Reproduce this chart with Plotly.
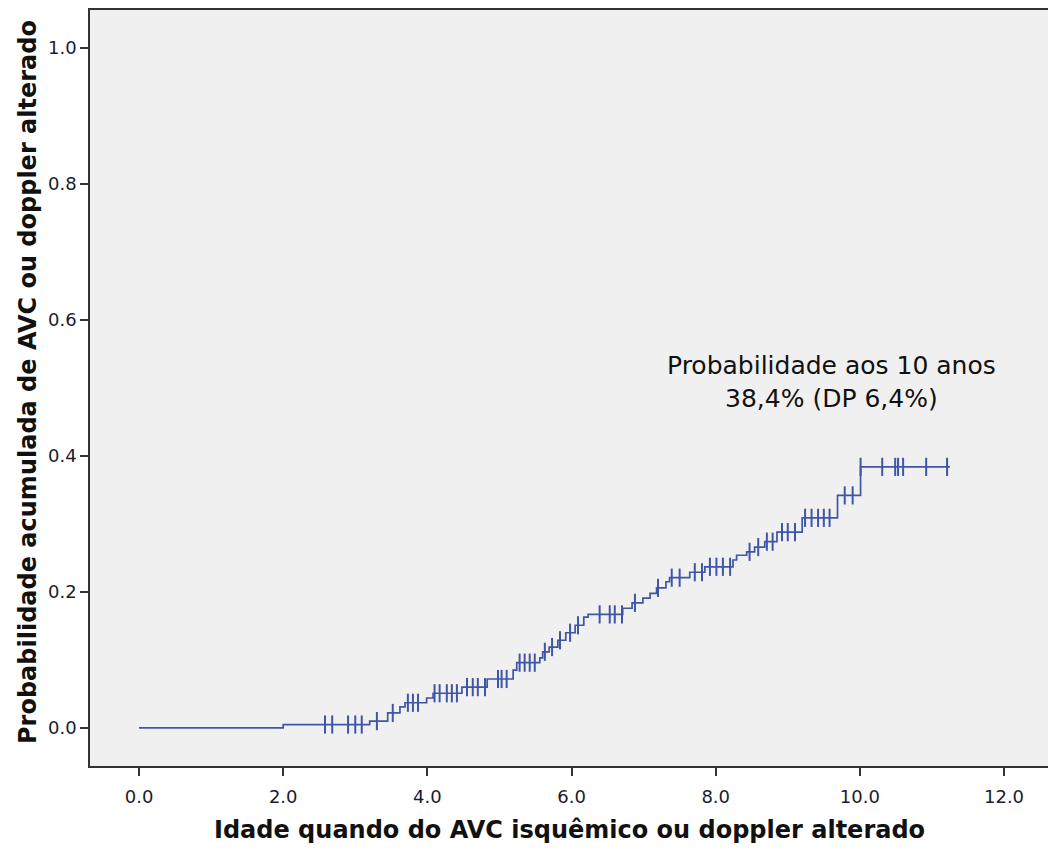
import plotly.graph_objects as go
import numpy as np

# Kaplan-Meier cumulative incidence: event times and cumulative probability after each step
event_times = [0.0, 2.00, 3.20, 3.45, 3.62, 3.69, 3.99, 4.08, 4.48, 4.83, 5.19, 5.24, 5.56, 5.60,
               5.69, 5.81, 5.92, 6.05, 6.17, 6.23, 6.71, 6.84, 6.99, 7.09, 7.18, 7.31, 7.36,
               7.64, 7.85, 8.24, 8.29, 8.43, 8.54, 8.68, 8.85, 9.20, 9.69, 10.01]
cum_prob = [0.0, 0.005, 0.010, 0.022, 0.031, 0.037, 0.044, 0.051, 0.060, 0.072, 0.085, 0.096, 0.103,
            0.112, 0.119, 0.129, 0.140, 0.151, 0.163, 0.167, 0.176, 0.184, 0.191, 0.198, 0.206,
            0.215, 0.221, 0.229, 0.237, 0.247, 0.254, 0.259, 0.266, 0.274, 0.288, 0.309, 0.342, 0.384]
end_time = 11.25

# Censored observations (ages)
censored_times = [2.58, 2.68, 2.90, 3.00, 3.09, 3.30, 3.52, 3.73, 3.80, 3.87, 4.10, 4.17, 4.27,
                  4.34, 4.41, 4.55, 4.63, 4.70, 4.80, 4.98, 5.03, 5.10, 5.28, 5.35, 5.42, 5.49,
                  5.63, 5.73, 5.84, 5.98, 6.09, 6.39, 6.53, 6.60, 6.70, 6.88, 7.20, 7.39, 7.50,
                  7.71, 7.81, 7.92, 8.01, 8.10, 8.20, 8.47, 8.59, 8.71, 8.79, 8.92, 9.00, 9.10,
                  9.24, 9.33, 9.42, 9.50, 9.58, 9.79, 9.90, 10.01, 10.31, 10.49, 10.53, 10.60,
                  10.92, 11.21]

x_ticks = [0.0, 2.0, 4.0, 6.0, 8.0, 10.0, 12.0]
y_ticks = [0.0, 0.2, 0.4, 0.6, 0.8, 1.0]

annotation_text = "Probabilidade aos 10 anos<br>38,4% (DP 6,4%)"
x_title = "Idade quando do AVC isquêmico ou doppler alterado"
y_title = "Probabilidade acumulada de AVC ou doppler alterado"

line_color = "#3F56A8"

step_x = event_times + [end_time]
step_y = cum_prob + [cum_prob[-1]]

et = np.array(event_times)
cp = np.array(cum_prob)
cens_y = [float(cp[np.searchsorted(et, t, side="right") - 1]) for t in censored_times]

fig = go.Figure()
fig.add_trace(go.Scatter(x=step_x, y=step_y, mode="lines", line_shape="hv",
                         line=dict(color=line_color, width=1.7), hoverinfo="skip"))
fig.add_trace(go.Scatter(x=censored_times, y=cens_y, mode="markers",
                         marker=dict(symbol="line-ns-open", size=13, color=line_color,
                                     line=dict(color=line_color, width=2)),
                         hoverinfo="skip"))

fig.add_annotation(x=9.61, y=0.509, xref="x", yref="y", text=annotation_text,
                   showarrow=False, font=dict(family="DejaVu Sans", size=25, color="#111"),
                   align="center")

title_font = dict(family="DejaVu Sans", size=24, color="#111")
fig.add_annotation(x=-0.0647, y=0.508, xref="paper", yref="paper", textangle=-90,
                   text="<b>" + y_title + "</b>", showarrow=False, font=title_font,
                   xanchor="center", yanchor="middle")
fig.add_annotation(x=0.501, y=-0.0847, xref="paper", yref="paper",
                   text="<b>" + x_title + "</b>", showarrow=False, font=title_font,
                   xanchor="center", yanchor="middle")

axis_font = dict(family="DejaVu Sans", size=18, color="#1c1c2c")

fig.update_layout(
    width=1048, height=850,
    margin=dict(l=90, r=0, t=10, b=84),
    paper_bgcolor="white", plot_bgcolor="#F0F0F0",
    showlegend=False,
    xaxis=dict(range=[-0.68, 12.61], tickvals=x_ticks, ticktext=[f"{v:.1f}" for v in x_ticks],
               showgrid=False, zeroline=False, showline=True, linecolor="#333", linewidth=1.5,
               mirror=True, ticks="outside", ticklen=8, tickwidth=1.5, tickcolor="#333",
               tickfont=axis_font, ticklabelstandoff=6),
    yaxis=dict(range=[-0.056, 1.056], tickvals=y_ticks, ticktext=[f"{v:.1f}" for v in y_ticks],
               showgrid=False, zeroline=False, showline=True, linecolor="#333", linewidth=1.5,
               ticks="outside", ticklen=8, tickwidth=1.5, tickcolor="#333",
               tickfont=axis_font),
)

fig.write_html("out.html")
